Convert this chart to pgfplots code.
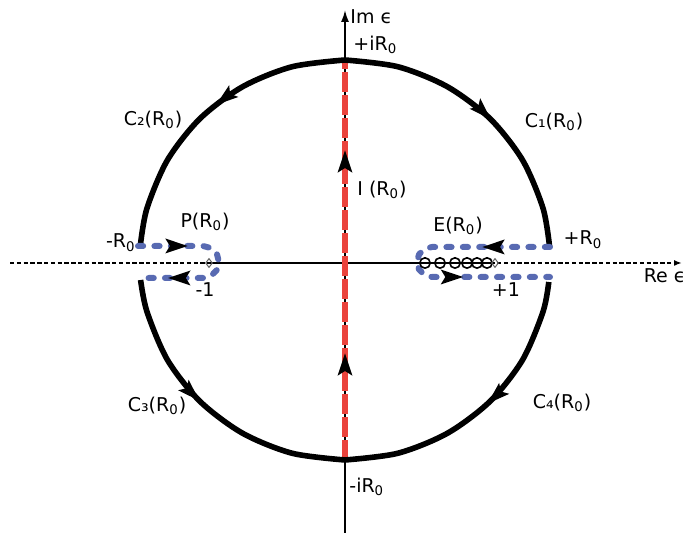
\documentclass[border=0pt]{standalone}
\usepackage{pgfplots}
\pgfplotsset{compat=1.18}
\usepackage{fontspec}
\setmainfont{DejaVu Sans}
\usetikzlibrary{arrows.meta,decorations.markings}
\definecolor{cred}{RGB}{234,67,60}
\definecolor{cblue}{RGB}{88,106,178}
\tikzset{
  bigtip/.tip={Stealth[length=11pt,width=7pt,inset=2pt]},
  mark1/.style={postaction={decorate},decoration={markings,
      mark=at position #1 with {\arrow[black]{bigtip}}}},
  lbl/.style={font=\fontsize{9.5}{11}\selectfont, inner sep=0pt},
  bluepath/.style={cblue, line width=3pt, line cap=round, line join=round,
      dash pattern=on 2.6pt off 5.6pt},
}
\begin{document}
\begin{tikzpicture}
\begin{axis}[
  x=0.5pt, y=0.5pt,
  xmin=0, xmax=687, ymin=0, ymax=533,
  axis lines=none,
  clip=false,
]
% invisible frame
\addplot[draw=none] coordinates {(0,0) (687,533)};

% real axis
\addplot[black, line width=1pt, dash pattern=on 2.2pt off 1.2pt] coordinates {(10,270) (208,270)};
\addplot[black, line width=0.9pt] coordinates {(208,270) (495,270)};
\addplot[black, line width=1pt, dash pattern=on 2.2pt off 1.2pt, -{Latex[length=4pt,width=3pt]}] coordinates {(497,270) (682,270)};

% imaginary axis
\addplot[black, line width=0.9pt, -{Latex[length=6pt,width=4pt]}] coordinates {(345,0) (345,523)};

% I(R0)
\addplot[cred, line width=3pt, dash pattern=on 10pt off 1.5pt,
  postaction={decorate}, decoration={markings,
    mark=at position 53.5pt with {\arrow[black]{bigtip}},
    mark=at position 155pt with {\arrow[black]{bigtip}}}]
  coordinates {(345,73) (345,473)};

% circle arcs
\addplot[black, line width=2.8pt, smooth, mark1=0.53] coordinates {
  (345,473) (398.1,466.2) (447.5,446.2) (490,414.4) (522.5,373) (543,324.8) (549.6,286)};
\addplot[black, line width=2.8pt, smooth, mark1=0.46] coordinates {
  (345,473) (291.9,466.2) (242.5,446.2) (200,414.4) (167.5,373) (147,324.8) (140.4,288)};
\addplot[black, line width=2.8pt, smooth, mark1=0.46] coordinates {
  (140.6,253) (147,221.2) (167.5,173) (200,131.6) (242.5,99.8) (291.9,79.8) (345,73)};
\addplot[black, line width=2.8pt, smooth, mark1=0.47] coordinates {
  (548.8,251) (543,221.2) (522.5,173) (490,131.6) (447.5,99.8) (398.1,79.8) (345,73)};

% P(R0)
\addplot[bluepath,
  postaction={decorate}, decoration={markings,
    mark=at position 25pt with {\arrow[black]{bigtip}},
    mark=at position 75pt with {\arrow[black]{bigtip}}}]
  coordinates {(138,287) (203,287) (211,284.9) (216.9,279) (219,271) (216.9,263) (211,257.1) (203,255) (138,255)};

% E(R0)
\addplot[bluepath,
  postaction={decorate}, decoration={markings,
    mark=at position 34pt with {\arrow[black]{bigtip}},
    mark=at position 98pt with {\arrow[black]{bigtip}}}]
  coordinates {(550,286) (432,286) (424.5,284) (419,278.5) (417,271) (419,263.5) (424.5,258) (432,256) (550,256)};

% poles on the real axis
\addplot[only marks, mark=o, mark size=2.6pt, mark options={fill=white, draw=black, line width=0.8pt}]
  coordinates {(425,270) (440,270) (455,270) (467,270) (477,270) (487,270)};
\addplot[only marks, mark=diamond, mark size=2.2pt, mark options={fill=white, draw=black!60, line width=0.5pt}]
  coordinates {(495,270) (209,270)};

% labels
\node[lbl, anchor=west] at (axis cs:350,516) {Im ϵ};
\node[lbl, anchor=west] at (axis cs:353,488) {+iR\textsubscript{0}};
\node[lbl, anchor=west] at (axis cs:349,46) {-iR\textsubscript{0}};
\node[lbl, anchor=west] at (axis cs:357,343) {I (R\textsubscript{0})};
\node[lbl, anchor=east] at (axis cs:136,290) {-R\textsubscript{0}};
\node[lbl] at (axis cs:205,311) {P(R\textsubscript{0})};
\node[lbl] at (axis cs:205,243) {-1};
\node[lbl] at (axis cs:458,307) {E(R\textsubscript{0})};
\node[lbl] at (axis cs:506,243) {+1};
\node[lbl] at (axis cs:583,293) {+R\textsubscript{0}};
\node[lbl] at (axis cs:153,413) {C₂(R\textsubscript{0})};
\node[lbl] at (axis cs:554,411) {C₁(R\textsubscript{0})};
\node[lbl] at (axis cs:157,127) {C₃(R\textsubscript{0})};
\node[lbl] at (axis cs:562,130) {C₄(R\textsubscript{0})};
\node[lbl, anchor=east] at (axis cs:686,257) {Re ϵ};
\end{axis}
\end{tikzpicture}
\end{document}
